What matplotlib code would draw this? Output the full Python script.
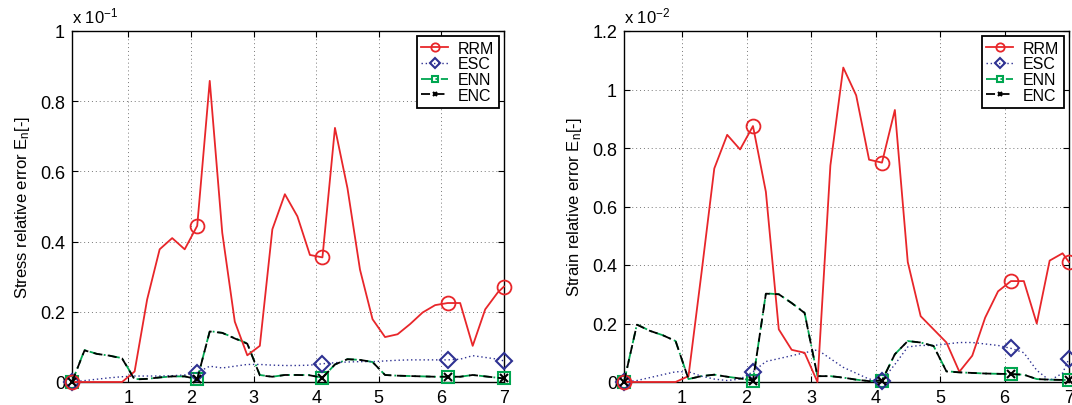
import numpy as np
import matplotlib
matplotlib.use('Agg')
import matplotlib.pyplot as plt

plt.rcParams['font.family'] = ['Liberation Sans', 'DejaVu Sans']
plt.rcParams['mathtext.fontset'] = 'custom'
plt.rcParams['mathtext.rm'] = 'Liberation Sans'
plt.rcParams['mathtext.it'] = 'Liberation Sans'

x = [0.1, 0.3, 0.5, 0.7, 0.9, 1.1, 1.3, 1.5, 1.7, 1.9, 2.1, 2.3, 2.5, 2.7, 2.9, 3.1, 3.3, 3.5,
     3.7, 3.9, 4.1, 4.3, 4.5, 4.7, 4.9, 5.1, 5.3, 5.5, 5.7, 5.9, 6.1, 6.3, 6.5, 6.7, 6.9, 7.0]
marks = [0, 10, 20, 30, 35]

# stress (x 10^-1)
stress_rrm = [0, 0, 0, 0, 0, 0.03, 0.235, 0.378, 0.41, 0.378, 0.445, 0.858, 0.425, 0.172, 0.076,
              0.103, 0.435, 0.535, 0.472, 0.362, 0.355, 0.724, 0.552, 0.32, 0.179, 0.128, 0.136,
              0.165, 0.198, 0.219, 0.225, 0.225, 0.103, 0.207, 0.255, 0.272]
stress_esc = [0, 0.004, 0.008, 0.012, 0.015, 0.017, 0.017, 0.017, 0.018, 0.02, 0.027, 0.045, 0.04,
              0.045, 0.05, 0.05, 0.048, 0.047, 0.047, 0.048, 0.052, 0.055, 0.057, 0.058, 0.058,
              0.06, 0.062, 0.063, 0.063, 0.063, 0.063, 0.065, 0.075, 0.07, 0.065, 0.06]
stress_enn = [0, 0.091, 0.08, 0.075, 0.068, 0.008, 0.009, 0.013, 0.016, 0.016, 0.008, 0.145, 0.14,
              0.125, 0.11, 0.02, 0.015, 0.02, 0.02, 0.02, 0.012, 0.05, 0.065, 0.063, 0.057, 0.02,
              0.018, 0.017, 0.016, 0.015, 0.015, 0.015, 0.02, 0.016, 0.012, 0.01]
stress_enc = [0, 0.09, 0.08, 0.075, 0.067, 0.007, 0.009, 0.013, 0.016, 0.016, 0.008, 0.144, 0.14,
              0.124, 0.109, 0.019, 0.015, 0.02, 0.02, 0.019, 0.012, 0.05, 0.065, 0.063, 0.057, 0.02,
              0.018, 0.017, 0.016, 0.015, 0.015, 0.015, 0.02, 0.016, 0.012, 0.01]

# strain (x 10^-2)
strain_rrm = [0, 0, 0, 0, 0, 0.02, 0.37, 0.73, 0.845, 0.795, 0.875, 0.65, 0.18, 0.11, 0.1, 0.0,
              0.74, 1.075, 0.98, 0.76, 0.75, 0.93, 0.41, 0.225, 0.18, 0.135, 0.035, 0.09, 0.22,
              0.31, 0.345, 0.345, 0.2, 0.415, 0.44, 0.41]
strain_esc = [0, 0.005, 0.015, 0.025, 0.035, 0.035, 0.02, 0.01, 0.005, 0.01, 0.035, 0.07, 0.08,
              0.09, 0.1, 0.11, 0.08, 0.05, 0.03, 0.01, 0.005, 0.06, 0.12, 0.125, 0.125, 0.13,
              0.135, 0.135, 0.13, 0.125, 0.115, 0.1, 0.04, 0.005, 0.03, 0.08]
strain_enn = [0, 0.197, 0.175, 0.16, 0.14, 0.01, 0.02, 0.025, 0.018, 0.012, 0.005, 0.303, 0.3,
              0.27, 0.237, 0.02, 0.02, 0.015, 0.008, 0.003, 0.005, 0.095, 0.14, 0.135, 0.123,
              0.037, 0.033, 0.031, 0.029, 0.028, 0.027, 0.025, 0.01, 0.008, 0.007, 0.007]
strain_enc = [0, 0.196, 0.175, 0.16, 0.14, 0.01, 0.02, 0.025, 0.018, 0.012, 0.005, 0.302, 0.3,
              0.27, 0.236, 0.02, 0.02, 0.015, 0.008, 0.003, 0.005, 0.095, 0.14, 0.135, 0.123,
              0.036, 0.033, 0.031, 0.029, 0.028, 0.027, 0.025, 0.01, 0.008, 0.007, 0.007]

RED = '#e8262a'
BLUE = '#2e3192'
GREEN = '#00a650'


def draw(ax, rrm, esc, enn, enc, ymax, ylabel, expo):
    ax.plot(x, rrm, color=RED, lw=1.3, marker='o', ms=10, mfc='none', mew=1.3,
            markevery=marks, label='RRM', clip_on=False, zorder=5)
    ax.plot(x, esc, color=BLUE, lw=1.0, ls=(0, (1, 2)), marker='D', ms=8, mfc='none', mew=1.5,
            markevery=marks, label='ESC', clip_on=False, zorder=4)
    ax.plot(x, enn, color=GREEN, lw=1.3, ls=(0, (6, 2, 1, 2)), marker='s', ms=8, mfc='none',
            mew=1.5, markevery=marks, label='ENN', clip_on=False, zorder=3)
    ax.plot(x, enc, color='black', lw=1.3, ls=(0, (5, 3)), marker='x', ms=6, mew=1.5,
            markevery=marks, label='ENC', clip_on=False, zorder=6)
    ax.set_xlim(0.1, 7)
    ax.set_ylim(0, ymax)
    ax.set_xticks(range(1, 8))
    yt = np.round(np.arange(0, ymax + 0.01, 0.2), 1)
    ax.set_yticks(yt)
    ax.set_yticklabels(['%g' % v for v in yt])
    ax.grid(True, ls=(0, (1, 3)), color='#777777', lw=0.7)
    ax.tick_params(direction='in', top=True, right=True, labelsize=13, length=4, pad=5)
    for s in ax.spines.values():
        s.set_linewidth(1.0)
    ax.set_ylabel(ylabel, fontsize=12, labelpad=6)
    ax.text(0.0, 1.015, r'x 10$^{%d}$' % expo, transform=ax.transAxes, fontsize=12,
            ha='left', va='bottom')
    leg = ax.legend(loc='upper right', fontsize=11.5, fancybox=False, framealpha=1,
                    edgecolor='black', handlelength=1.7, borderaxespad=0.3, labelspacing=0.05,
                    markerscale=0.6, handletextpad=0.6, borderpad=0.3)
    leg.get_frame().set_linewidth(1.3)


fig = plt.figure(figsize=(10.72, 4.06), dpi=100)
ax1 = fig.add_axes([72 / 1072, 23 / 406, 432 / 1072, 351 / 406])
ax2 = fig.add_axes([624 / 1072, 23 / 406, 445 / 1072, 351 / 406])

draw(ax1, stress_rrm, stress_esc, stress_enn, stress_enc, 1.0,
     r'Stress relative error E$_{\rm n}$[-]', -1)
draw(ax2, strain_rrm, strain_esc, strain_enn, strain_enc, 1.2,
     r'Strain relative error E$_{\rm n}$[-]', -2)

fig.savefig('out.png', dpi=100)
